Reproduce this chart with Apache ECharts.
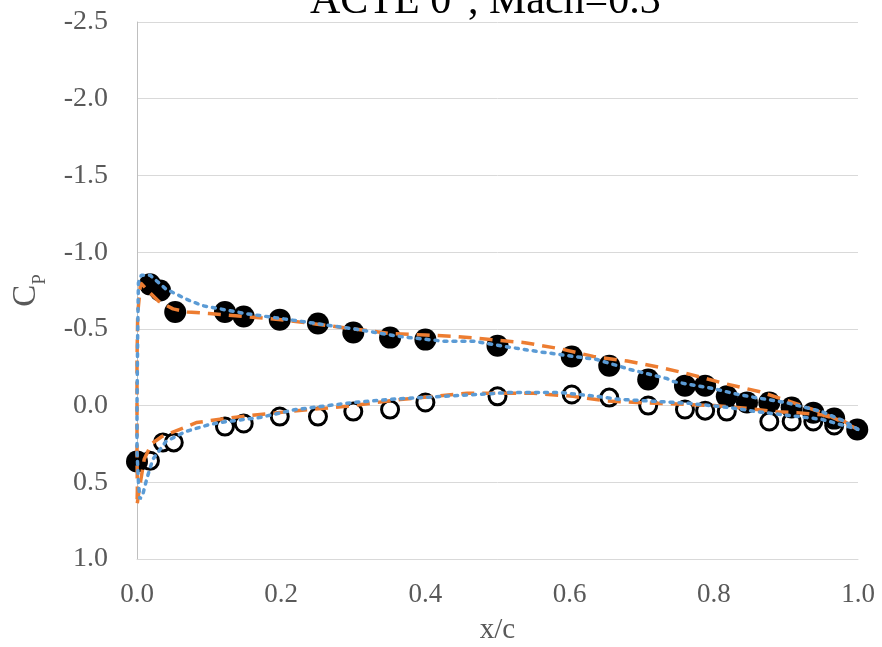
<!DOCTYPE html>
<html><head><meta charset="utf-8">
<script src="https://cdn.jsdelivr.net/npm/echarts@6/dist/echarts.min.js"></script>
<style>html,body{margin:0;padding:0;background:#fff}#c{width:882px;height:647px}</style>
</head><body><div id="c"></div>
<script>
// Upper-surface experiment (filled circles): [x/c, Cp]
const upperExp = [[0.000,0.365],[0.018,-0.79],[0.032,-0.75],[0.053,-0.61],[0.122,-0.61],[0.148,-0.58],[0.198,-0.56],[0.251,-0.535],[0.300,-0.476],[0.351,-0.443],[0.400,-0.43],[0.500,-0.39],[0.603,-0.32],[0.655,-0.26],[0.709,-0.17],[0.760,-0.13],[0.788,-0.13],[0.818,-0.06],[0.846,-0.02],[0.877,-0.02],[0.908,0.013],[0.938,0.046],[0.967,0.085],[0.999,0.156]];
// Lower-surface experiment (open circles)
const lowerExp = [[0.018,0.36],[0.036,0.24],[0.051,0.24],[0.122,0.137],[0.148,0.117],[0.198,0.072],[0.251,0.072],[0.300,0.039],[0.351,0.026],[0.400,-0.02],[0.500,-0.06],[0.603,-0.072],[0.655,-0.052],[0.709,0.0],[0.760,0.026],[0.788,0.033],[0.818,0.039],[0.877,0.104],[0.908,0.104],[0.938,0.104],[0.967,0.13]];
// Orange dashed computation (TE upper -> LE -> TE lower)
const orangeLine = [[1.0,0.155],[0.98,0.11],[0.95,0.046],[0.906,-0.026],[0.864,-0.09],[0.818,-0.14],[0.77,-0.2],[0.725,-0.25],[0.68,-0.29],[0.633,-0.32],[0.587,-0.37],[0.538,-0.41],[0.49,-0.43],[0.444,-0.45],[0.4,-0.46],[0.35,-0.47],[0.3,-0.50],[0.25,-0.53],[0.2,-0.56],[0.15,-0.58],[0.1,-0.60],[0.07,-0.61],[0.05,-0.63],[0.03,-0.68],[0.015,-0.75],[0.005,-0.80],[0.001,-0.6],[0.0,-0.3],[0.0,0.0],[0.0,0.3],[0.0005,0.55],[0.0,0.65],[0.003,0.55],[0.01,0.35],[0.02,0.25],[0.035,0.2],[0.048,0.176],[0.083,0.11],[0.143,0.072],[0.208,0.04],[0.3,0.0],[0.365,-0.04],[0.458,-0.08],[0.55,-0.08],[0.605,-0.06],[0.652,-0.03],[0.693,-0.02],[0.735,-0.013],[0.8,0.0],[0.85,0.02],[0.888,0.04],[0.915,0.046],[0.95,0.06],[0.98,0.1],[1.0,0.155]];
// Blue dotted computation
const blueLine = [[1.0,0.155],[0.98,0.1],[0.95,0.04],[0.9,-0.02],[0.86,-0.05],[0.836,-0.07],[0.8,-0.11],[0.743,-0.157],[0.735,-0.176],[0.684,-0.235],[0.638,-0.3],[0.559,-0.35],[0.517,-0.38],[0.466,-0.42],[0.424,-0.42],[0.365,-0.45],[0.3,-0.5],[0.226,-0.55],[0.15,-0.6],[0.092,-0.65],[0.07,-0.69],[0.04,-0.76],[0.018,-0.85],[0.006,-0.85],[0.002,-0.8],[0.001,-0.5],[0.0,0.0],[0.0,0.3],[0.002,0.5],[0.004,0.61],[0.008,0.58],[0.014,0.47],[0.022,0.35],[0.04,0.235],[0.067,0.17],[0.1,0.124],[0.125,0.104],[0.17,0.078],[0.22,0.026],[0.3,-0.02],[0.365,-0.045],[0.424,-0.06],[0.517,-0.085],[0.587,-0.085],[0.638,-0.06],[0.67,-0.04],[0.725,-0.026],[0.765,-0.015],[0.822,0.013],[0.86,0.04],[0.95,0.09],[1.0,0.155]];
const titleText = 'ACTE 0°, Mach=0.3';

const serif = 'Liberation Serif';
const chart = echarts.init(document.getElementById('c'));
chart.setOption({
  animation: false,
  title: { text: titleText, left: 305, top: -24,
    textStyle: { fontFamily: serif, fontSize: 42, fontWeight: 'normal', color: '#000' } },
  grid: { left: 137, right: 24, top: 22, bottom: 88, containLabel: false, outerBoundsMode: 'none' },
  xAxis: { type: 'value', min: 0, max: 1, interval: 0.2,
    name: 'x/c', nameLocation: 'middle', nameGap: 57,
    nameTextStyle: { fontFamily: serif, fontSize: 29, color: '#595959' },
    axisLine: { onZero: false, lineStyle: { color: '#d9d9d9' } },
    axisTick: { show: false }, splitLine: { show: false },
    axisLabel: { fontFamily: serif, fontSize: 27, color: '#595959', margin: 22,
      formatter: v => v.toFixed(1) } },
  yAxis: { type: 'value', min: -2.5, max: 1.0, interval: 0.5, inverse: true,
    name: '{c|C}{p|P}', nameLocation: 'middle', nameGap: 94, nameRotate: 90,
    nameTextStyle: { rich: { c: { fontFamily: serif, fontSize: 33, color: '#595959' },
      p: { fontFamily: serif, fontSize: 19, color: '#595959', verticalAlign: 'bottom', padding:[0,0,-7,0] } } },
    axisLine: { show: true, lineStyle: { color: '#bfbfbf' } },
    axisTick: { show: false },
    splitLine: { lineStyle: { color: '#d9d9d9' } },
    axisLabel: { fontFamily: serif, fontSize: 28, color: '#595959', margin: 29,
      formatter: v => v.toFixed(1) } },
  series: [
    { type: 'line', data: orangeLine, showSymbol: false, symbol: 'none',
      lineStyle: { color: '#ED7D31', width: 3.5, type: [13, 8] } },
    { type: 'line', data: blueLine, showSymbol: false, symbol: 'none',
      lineStyle: { color: '#5B9BD5', width: 3.5, type: [3, 6], cap: 'round' } },
    { type: 'scatter', data: lowerExp, symbol: 'circle', symbolSize: 17,
      itemStyle: { color: '#fff', borderColor: '#000', borderWidth: 3, opacity: 1 } },
    { type: 'scatter', data: upperExp, symbol: 'circle', symbolSize: 22,
      itemStyle: { color: '#000', opacity: 1 } }
  ]
});
</script></body></html>
